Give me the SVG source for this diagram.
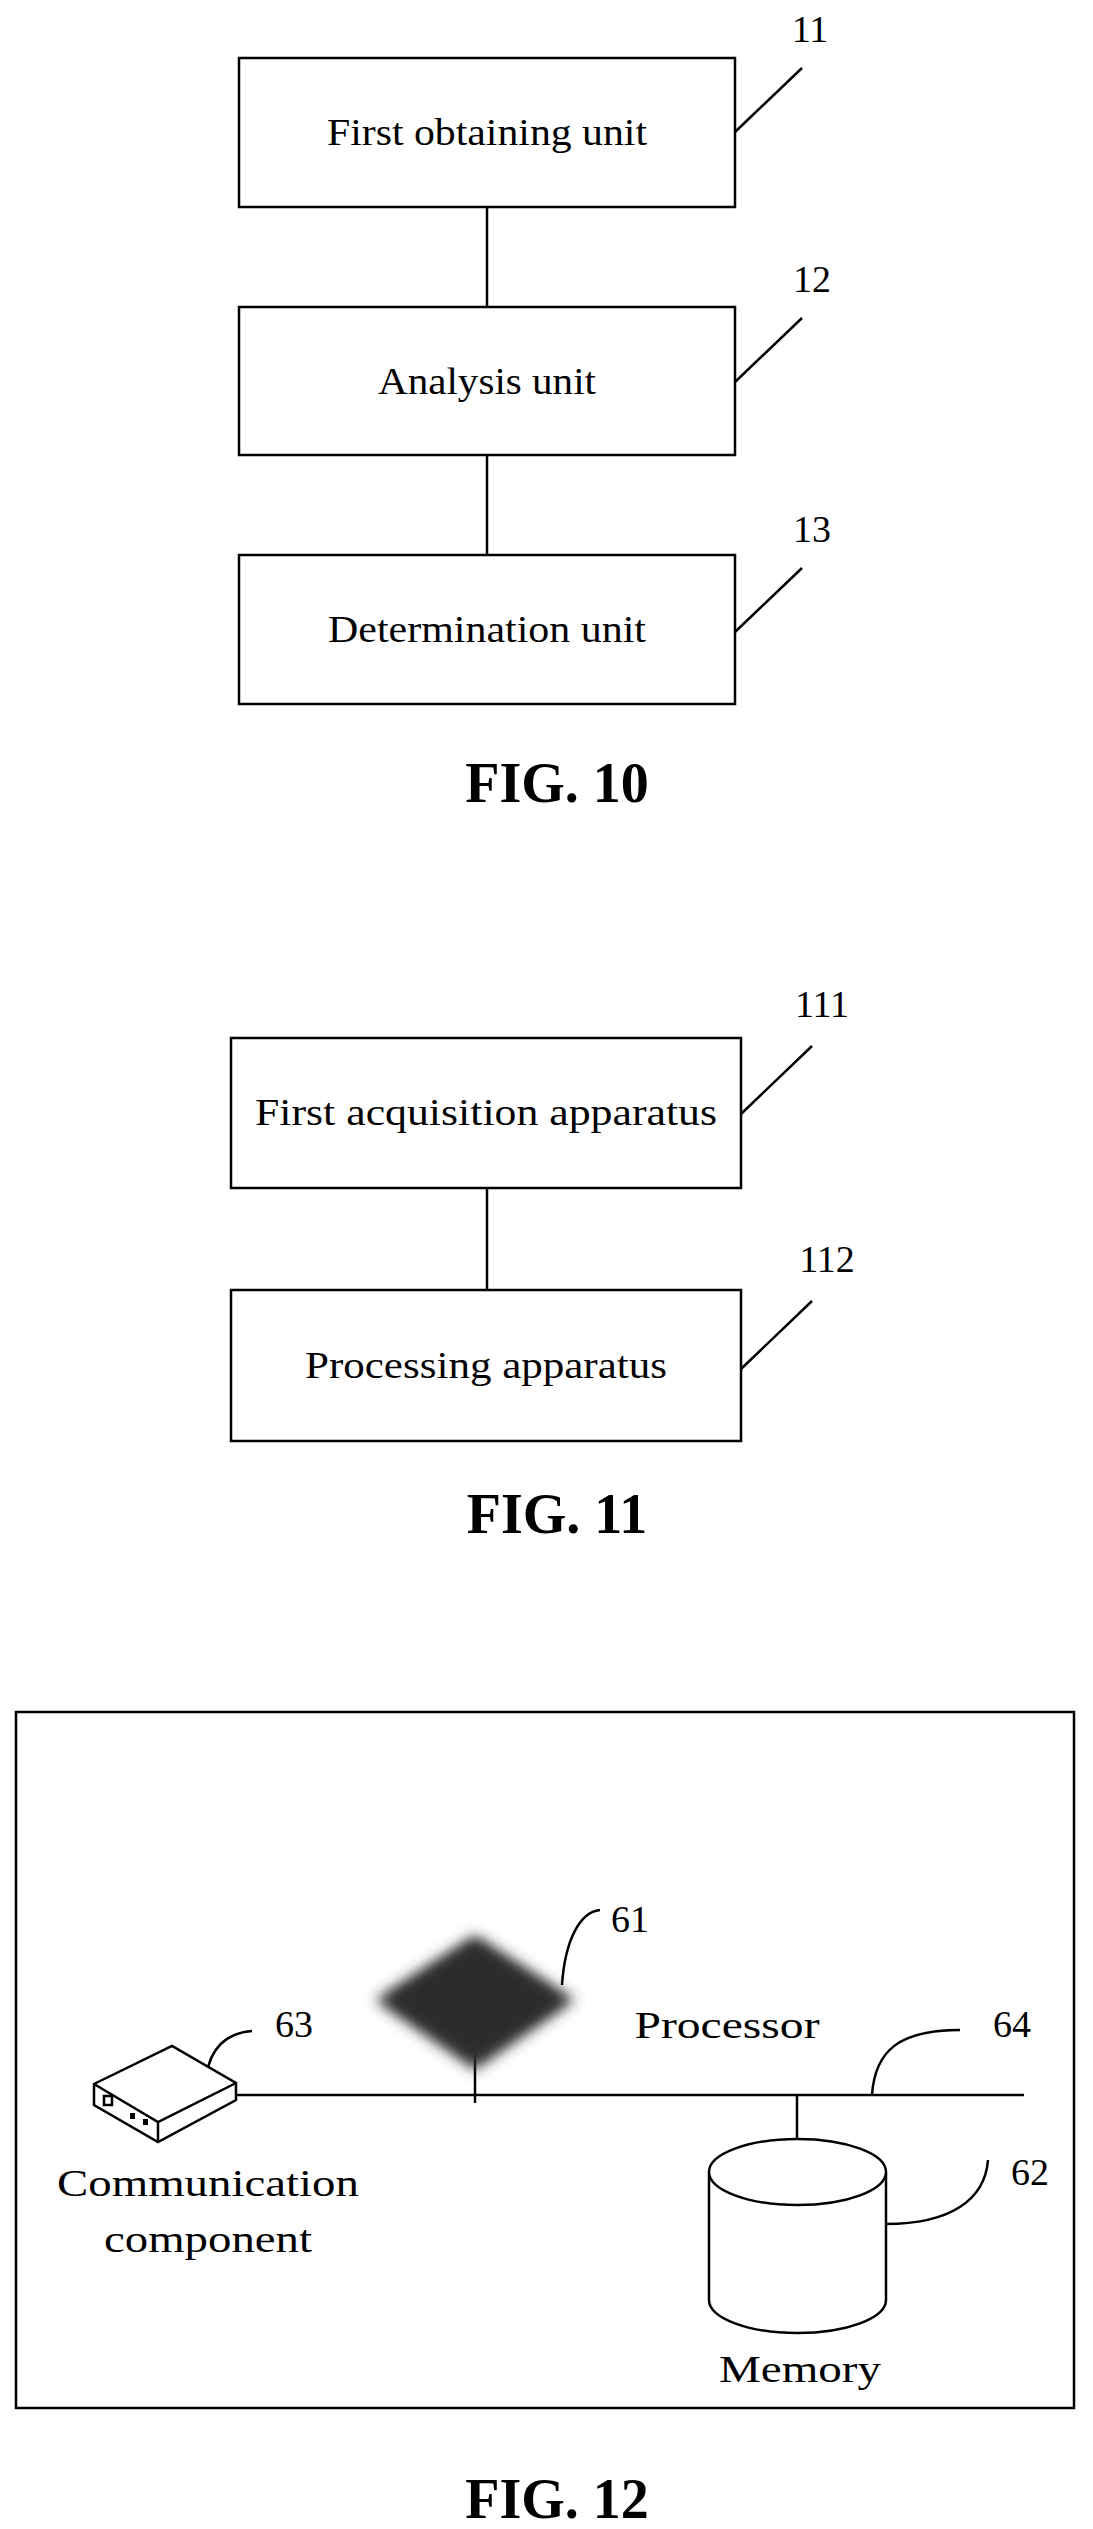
<svg xmlns="http://www.w3.org/2000/svg" width="1093" height="2529" viewBox="0 0 1093 2529">
<style>
.b{fill:#fff;stroke:#000;stroke-width:2.5}
.l{fill:none;stroke:#000;stroke-width:2.5}
.t{font-family:"Liberation Serif",serif;font-size:38px;fill:#000}
.c{text-anchor:middle}
.f{font-family:"Liberation Serif",serif;font-size:56px;font-weight:bold;text-anchor:middle}
</style>
<defs><filter id="blur" x="-20%" y="-20%" width="140%" height="140%"><feGaussianBlur stdDeviation="7"/></filter></defs>
<g id="connectors">
<line class="l" x1="487" y1="207" x2="487" y2="307"/>
<line class="l" x1="487" y1="455" x2="487" y2="555"/>
<line class="l" x1="487" y1="1188" x2="487" y2="1290"/>
<line class="l" x1="236" y1="2095" x2="1024" y2="2095"/>
<line class="l" x1="475" y1="2050" x2="475" y2="2103"/>
<line class="l" x1="797" y1="2095" x2="797" y2="2139"/>
<path class="l" d="M735 132 L802 68"/>
<path class="l" d="M735 382 L802 318"/>
<path class="l" d="M735 632 L802 568"/>
<path class="l" d="M741 1114 L812 1046"/>
<path class="l" d="M741 1369 L812 1301"/>
<path class="l" d="M562 1985 C565 1940 580 1912 600 1910"/>
<path class="l" d="M872 2095 C875 2050 900 2030 960 2030"/>
<path class="l" d="M886 2224 C950 2224 985 2200 988 2160"/>
<path class="l" d="M207 2074 C210 2050 225 2033 252 2031"/>
</g>
<g id="n11"><rect class="b" x="239" y="58" width="496" height="149"/><text class="t c" x="487" y="145" textLength="320" lengthAdjust="spacingAndGlyphs">First obtaining unit</text><text class="t c" x="810" y="42">11</text></g>
<g id="n12"><rect class="b" x="239" y="307" width="496" height="148"/><text class="t c" x="487" y="394" textLength="218" lengthAdjust="spacingAndGlyphs">Analysis unit</text><text class="t c" x="812" y="292">12</text></g>
<g id="n13"><rect class="b" x="239" y="555" width="496" height="149"/><text class="t c" x="487" y="642" textLength="318" lengthAdjust="spacingAndGlyphs">Determination unit</text><text class="t c" x="812" y="542">13</text></g>
<text class="f" x="557" y="802">FIG. 10</text>
<g id="n111"><rect class="b" x="231" y="1038" width="510" height="150"/><text class="t c" x="486" y="1125" textLength="462" lengthAdjust="spacingAndGlyphs">First acquisition apparatus</text><text class="t c" x="822" y="1017">111</text></g>
<g id="n112"><rect class="b" x="231" y="1290" width="510" height="151"/><text class="t c" x="486" y="1378" textLength="362" lengthAdjust="spacingAndGlyphs">Processing apparatus</text><text class="t c" x="827" y="1272">112</text></g>
<text class="f" x="557" y="1533">FIG. 11</text>
<g id="fig12">
<rect class="l" x="16" y="1712" width="1058" height="696"/>
</g>
<g id="n61">
<path d="M475 1935 L575 2000 L475 2070 L375 2000 Z" fill="#333" filter="url(#blur)"/>
<path d="M475 1945 L560 2000 L475 2055 L390 2000 Z" fill="#2a2a2a" filter="url(#blur)" opacity="0.8"/>
<text class="t c" x="630" y="1932">61</text>
<text class="t c" x="727" y="2038" textLength="185" lengthAdjust="spacingAndGlyphs">Processor</text>
</g>
<g id="n63">
<path class="b" d="M94 2084 L172 2046 L236 2083 L236 2100 L158 2142 L94 2105 Z" stroke-width="2"/>
<path class="l" d="M94 2084 L158 2122 L236 2083 M158 2122 L158 2142" stroke-width="2"/>
<rect x="104" y="2096" width="8" height="9" class="l" stroke-width="2"/>
<rect x="130" y="2113" width="5" height="6" fill="#000"/>
<rect x="143" y="2119" width="5" height="6" fill="#000"/>
<text class="t c" x="294" y="2037">63</text>
<text class="t c" x="208" y="2196" textLength="302" lengthAdjust="spacingAndGlyphs">Communication</text>
<text class="t c" x="208" y="2252" textLength="208" lengthAdjust="spacingAndGlyphs">component</text>
</g>
<g id="n64"><text class="t c" x="1012" y="2037">64</text></g>
<g id="n62">
<path class="b" d="M709 2172 L709 2300 A88.5 33 0 0 0 886 2300 L886 2172"/>
<ellipse class="b" cx="797.5" cy="2172" rx="88.5" ry="33"/>
<text class="t c" x="1030" y="2185">62</text>
<text class="t c" x="800" y="2382" textLength="162" lengthAdjust="spacingAndGlyphs">Memory</text>
</g>
<text class="f" x="557" y="2518">FIG. 12</text>
</svg>
